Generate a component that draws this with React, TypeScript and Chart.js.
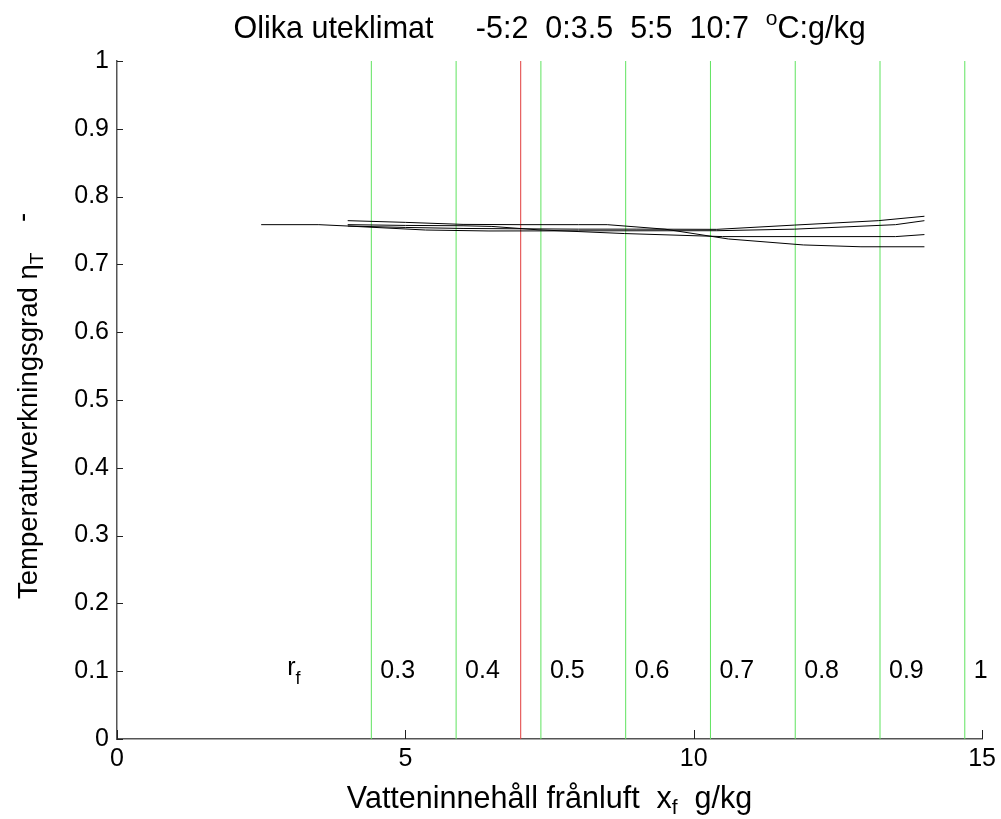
import React, { useEffect, useRef } from 'react';
import { Chart, registerables } from 'chart.js';

Chart.register(...registerables);

// ---- axis ticks ----
const X_TICKS = [0, 5, 10, 15];
const X_TICK_LABELS = ['0', '5', '10', '15'];
const Y_TICKS = [0, 0.1, 0.2, 0.3, 0.4, 0.5, 0.6, 0.7, 0.8, 0.9, 1];
const Y_TICK_LABELS = ['0', '0.1', '0.2', '0.3', '0.4', '0.5', '0.6', '0.7', '0.8', '0.9', '1'];

// ---- curves: temperature efficiency vs exhaust-air moisture (four outdoor climates) ----
const CURVE1_X = [4, 5, 6, 7, 8, 8.5, 9.5, 10.6, 11.9, 12.9, 14];
const CURVE1_Y = [0.7645, 0.762, 0.759, 0.7586, 0.7586, 0.7586, 0.752, 0.7375, 0.7287, 0.726, 0.726];
const CURVE2_X = [4, 5, 6, 6.5, 7.3, 8.8, 10.5, 13.5, 14];
const CURVE2_Y = [0.7586, 0.7575, 0.757, 0.756, 0.751, 0.7455, 0.741, 0.741, 0.744];
const CURVE3_X = [4, 5, 6, 7, 8, 9, 10.4, 11.75, 13.2, 14];
const CURVE3_Y = [0.7566, 0.7545, 0.753, 0.7525, 0.752, 0.752, 0.7517, 0.758, 0.7645, 0.771];
const CURVE4_X = [2.5, 3.5, 4, 5.35, 6.45, 8, 10.4, 11.75, 13.5, 14];
const CURVE4_Y = [0.7586, 0.7586, 0.7566, 0.7507, 0.7493, 0.7495, 0.7497, 0.752, 0.7586, 0.7645];

// ---- relative humidity reference lines ----
const RF_LINES_X = [4.41, 5.88, 7.35, 8.82, 10.29, 11.76, 13.23, 14.7];
const RF_LABELS = ['0.3', '0.4', '0.5', '0.6', '0.7', '0.8', '0.9', '1'];
const RF_LABEL_Y = 0.1;
const RF_NAME_X = 2.95;
const RED_LINE_X = [7];

const FONT = "'Liberation Sans', Arial, Helvetica, sans-serif";
const LABEL_SIZE = 30.5;
const YLABEL_SIZE = 27.5;
const SUB_SIZE = 21;

type Part = { t: string; s: number; dy?: number };

function drawRich(ctx: CanvasRenderingContext2D, parts: Part[], x: number, y: number, align: 'center' | 'left') {
  let w = 0;
  for (const p of parts) {
    ctx.font = `${p.s}px ${FONT}`;
    w += ctx.measureText(p.t).width;
  }
  let cx = align === 'center' ? x - w / 2 : x;
  ctx.textAlign = 'left';
  ctx.textBaseline = 'alphabetic';
  for (const p of parts) {
    ctx.font = `${p.s}px ${FONT}`;
    ctx.fillText(p.t, cx, y + (p.dy || 0));
    cx += ctx.measureText(p.t).width;
  }
}

const decorPlugin = {
  id: 'decor',
  afterDraw(chart: any) {
    const { ctx, chartArea } = chart;
    const xs = chart.scales.x;
    const ys = chart.scales.y;
    ctx.save();
    // inward tick marks
    ctx.strokeStyle = '#222';
    ctx.lineWidth = 1;
    ctx.beginPath();
    for (const t of xs.ticks) {
      const px = Math.round(xs.getPixelForValue(t.value)) + 0.5;
      ctx.moveTo(px, chartArea.bottom);
      ctx.lineTo(px, chartArea.bottom - 9);
    }
    for (const t of ys.ticks) {
      const py = Math.round(ys.getPixelForValue(t.value)) + 0.5;
      ctx.moveTo(chartArea.left, py);
      ctx.lineTo(chartArea.left + 6, py);
    }
    ctx.stroke();

    ctx.fillStyle = '#000';
    // relative humidity labels
    const ly = ys.getPixelForValue(RF_LABEL_Y);
    ctx.textBaseline = 'middle';
    ctx.textAlign = 'left';
    ctx.font = `25px ${FONT}`;
    RF_LINES_X.forEach((v, i) => {
      const px = xs.getPixelForValue(v) + 9;
      ctx.fillText(RF_LABELS[i], px, ly);
    });
    drawRich(ctx, [{ t: 'r', s: 25 }, { t: 'f', s: 18, dy: 9 }], xs.getPixelForValue(RF_NAME_X), ly + 4, 'left');

    const cxm = (chartArea.left + chartArea.right) / 2;
    // title
    drawRich(
      ctx,
      [
        { t: 'Olika uteklimat     -5:2  0:3.5  5:5  10:7  ', s: LABEL_SIZE },
        { t: 'o', s: SUB_SIZE, dy: -13 },
        { t: 'C:g/kg', s: LABEL_SIZE },
      ],
      cxm,
      38,
      'center'
    );
    // x label
    drawRich(
      ctx,
      [
        { t: 'Vatteninnehåll frånluft  x', s: LABEL_SIZE },
        { t: 'f', s: SUB_SIZE, dy: 6 },
        { t: '  g/kg', s: LABEL_SIZE },
      ],
      cxm,
      808,
      'center'
    );
    // y label
    ctx.translate(37, 599);
    ctx.rotate(-Math.PI / 2);
    drawRich(
      ctx,
      [
        { t: 'Temperaturverkningsgrad η', s: YLABEL_SIZE },
        { t: 'T', s: 19, dy: 6 },
        { t: '    -', s: YLABEL_SIZE, dy: -6 },
      ],
      0,
      0,
      'left'
    );
    ctx.restore();
  },
};

function pts(xs: number[], ys: number[]) {
  return xs.map((x, i) => ({ x, y: ys[i] }));
}

export default function App() {
  const ref = useRef<HTMLCanvasElement | null>(null);
  useEffect(() => {
    document.body.style.margin = '0';
    if (!ref.current) return;
    const curveStyle = { borderColor: '#000', borderWidth: 1, pointRadius: 0, fill: false, tension: 0, order: 0 };
    const datasets: any[] = [
      ...RF_LINES_X.map((v) => ({
        data: [{ x: v, y: 0 }, { x: v, y: 1 }],
        borderColor: '#5fe35f',
        borderWidth: 1,
        pointRadius: 0,
        order: 2,
      })),
      ...RED_LINE_X.map((v) => ({
        data: [{ x: v, y: 0 }, { x: v, y: 1 }],
        borderColor: '#e23c3c',
        borderWidth: 1,
        pointRadius: 0,
        order: 1,
      })),
      { data: pts(CURVE1_X, CURVE1_Y), ...curveStyle },
      { data: pts(CURVE2_X, CURVE2_Y), ...curveStyle },
      { data: pts(CURVE3_X, CURVE3_Y), ...curveStyle },
      { data: pts(CURVE4_X, CURVE4_Y), ...curveStyle },
    ];
    const tickFont = { family: FONT, size: 25 };
    const chart = new Chart(ref.current, {
      type: 'line',
      data: { datasets },
      plugins: [decorPlugin],
      options: {
        animation: false,
        responsive: false,
        events: [],
        layout: { padding: { left: 0, right: 16, top: 61, bottom: 0 } },
        plugins: { legend: { display: false }, tooltip: { enabled: false }, title: { display: false } },
        scales: {
          x: {
            type: 'linear',
            min: 0,
            max: 15,
            afterBuildTicks: (s: any) => {
              s.ticks = X_TICKS.map((v) => ({ value: v }));
            },
            afterFit: (s: any) => {
              s.height = 80;
            },
            ticks: {
              autoSkip: false,
              maxRotation: 0,
              padding: 5,
              color: '#000',
              font: tickFont,
              callback: (_v: any, i: number) => X_TICK_LABELS[i],
            },
            grid: { display: true, drawOnChartArea: false, drawTicks: false },
            border: { display: true, color: '#555', width: 1.5 },
          },
          y: {
            type: 'linear',
            min: 0,
            max: 1,
            afterBuildTicks: (s: any) => {
              s.ticks = Y_TICKS.map((v) => ({ value: v }));
            },
            afterFit: (s: any) => {
              s.width = 117;
            },
            ticks: {
              autoSkip: false,
              padding: 8,
              color: '#000',
              font: tickFont,
              callback: (_v: any, i: number) => Y_TICK_LABELS[i],
            },
            grid: { display: true, drawOnChartArea: false, drawTicks: false },
            border: { display: true, color: '#555', width: 1.5 },
          },
        },
      },
    } as any);
    return () => chart.destroy();
  }, []);
  return (
    <div style={{ width: 1001, height: 819, background: '#fff' }}>
      <canvas ref={ref} width={1001} height={819} style={{ display: 'block' }} />
    </div>
  );
}
